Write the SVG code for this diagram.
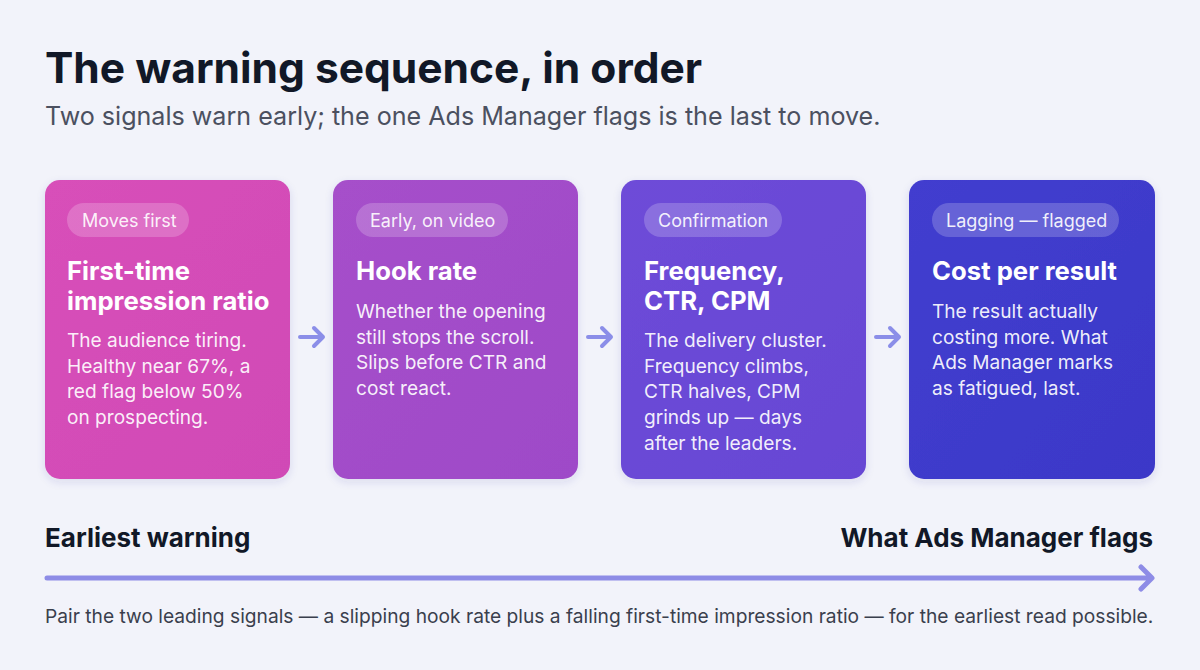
<svg xmlns="http://www.w3.org/2000/svg" width="1200" height="670" viewBox="0 0 1200 670">
<defs>
<style>
.title{font-family:Inter,"Liberation Sans",sans-serif;font-weight:700;font-size:42.5px;fill:#111827}
.sub{font-family:Inter,"Liberation Sans",sans-serif;font-size:25.1px;fill:#4b5060}
.pill{fill:#ffffff;fill-opacity:0.2}
.pilltxt{font-family:Inter,"Liberation Sans",sans-serif;font-size:18px;fill:#ffffff;fill-opacity:0.92}
.ctitle{font-family:Inter,"Liberation Sans",sans-serif;font-weight:700;font-size:25.7px;fill:#ffffff}
.body{font-family:Inter,"Liberation Sans",sans-serif;font-size:19.1px;fill:#ffffff;fill-opacity:0.93}
.axis{font-family:Inter,"Liberation Sans",sans-serif;font-weight:700;font-size:26px;fill:#111827}
.foot{font-family:Inter,"Liberation Sans",sans-serif;font-size:19.2px;fill:#3a3f4d}
.conn{stroke:#8b8ee8;stroke-width:4;fill:none;stroke-linecap:round;stroke-linejoin:round}
</style>
<linearGradient id="g1" x1="0" y1="0" x2="1" y2="1"><stop offset="0" stop-color="#d84fb9"/><stop offset="1" stop-color="#d04ab6"/></linearGradient>
<linearGradient id="g2" x1="0" y1="0" x2="1" y2="1"><stop offset="0" stop-color="#a64fca"/><stop offset="1" stop-color="#9e4ac8"/></linearGradient>
<linearGradient id="g3" x1="0" y1="0" x2="1" y2="1"><stop offset="0" stop-color="#6e4cd8"/><stop offset="1" stop-color="#6646d4"/></linearGradient>
<linearGradient id="g4" x1="0" y1="0" x2="1" y2="1"><stop offset="0" stop-color="#423ecf"/><stop offset="1" stop-color="#3b38c8"/></linearGradient>
<filter id="sh" x="-10%" y="-10%" width="120%" height="130%"><feDropShadow dx="0" dy="3" stdDeviation="4" flood-color="#3b2f8f" flood-opacity="0.12"/></filter>
</defs>
<rect width="1200" height="670" fill="#f2f3fa"/>
<text class="title" x="45" y="83">The warning sequence, in order</text>
<text class="sub" x="45" y="125">Two signals warn early; the one Ads Manager flags is the last to move.</text>

<g id="card1">
<rect x="45" y="180" width="245" height="299" rx="15" fill="url(#g1)" filter="url(#sh)"/>
<rect x="67" y="203" width="122" height="34" rx="17" class="pill"/>
<text class="pilltxt" x="82" y="226.5">Moves first</text>
<text class="ctitle" x="67" y="280">First-time</text>
<text class="ctitle" x="67" y="310">impression ratio</text>
<text class="body" x="67" y="347">The audience tiring.</text>
<text class="body" x="67" y="373">Healthy near 67%, a</text>
<text class="body" x="67" y="398">red flag below 50%</text>
<text class="body" x="67" y="424">on prospecting.</text>
</g>

<g id="card2">
<rect x="333" y="180" width="245" height="299" rx="15" fill="url(#g2)" filter="url(#sh)"/>
<rect x="356" y="203" width="152" height="34" rx="17" class="pill"/>
<text class="pilltxt" x="370" y="226.5">Early, on video</text>
<text class="ctitle" x="356" y="280">Hook rate</text>
<text class="body" x="356" y="318">Whether the opening</text>
<text class="body" x="356" y="344">still stops the scroll.</text>
<text class="body" x="356" y="369">Slips before CTR and</text>
<text class="body" x="356" y="395">cost react.</text>
</g>

<g id="card3">
<rect x="621" y="180" width="245" height="299" rx="15" fill="url(#g3)" filter="url(#sh)"/>
<rect x="644" y="203" width="138" height="34" rx="17" class="pill"/>
<text class="pilltxt" x="658" y="226.5">Confirmation</text>
<text class="ctitle" x="644" y="280">Frequency,</text>
<text class="ctitle" x="644" y="310">CTR, CPM</text>
<text class="body" x="644" y="347">The delivery cluster.</text>
<text class="body" x="644" y="373">Frequency climbs,</text>
<text class="body" x="644" y="398">CTR halves, CPM</text>
<text class="body" x="644" y="424">grinds up — days</text>
<text class="body" x="644" y="450">after the leaders.</text>
</g>

<g id="card4">
<rect x="909" y="180" width="246" height="299" rx="15" fill="url(#g4)" filter="url(#sh)"/>
<rect x="932" y="203" width="187" height="34" rx="17" class="pill"/>
<text class="pilltxt" x="946" y="226.5">Lagging — flagged</text>
<text class="ctitle" x="932" y="280">Cost per result</text>
<text class="body" x="932" y="318">The result actually</text>
<text class="body" x="932" y="344">costing more. What</text>
<text class="body" x="932" y="369">Ads Manager marks</text>
<text class="body" x="932" y="395">as fatigued, last.</text>
</g>

<g id="connectors">
<path class="conn" d="M300 337 H323 M314 328 L323 337 L314 346"/>
<path class="conn" d="M588 337 H611 M602 328 L611 337 L602 346"/>
<path class="conn" d="M876 337 H899 M890 328 L899 337 L890 346"/>
<path d="M47 578 H1151 M1141 567 L1152 578 L1141 589" stroke="#8e8ce6" stroke-width="5" fill="none" stroke-linecap="round" stroke-linejoin="round"/>
</g>

<text class="axis" x="45" y="547">Earliest warning</text>
<text class="axis" x="1153" y="547" text-anchor="end">What Ads Manager flags</text>
<text class="foot" x="45" y="623">Pair the two leading signals — a slipping hook rate plus a falling first-time impression ratio — for the earliest read possible.</text>
</svg>
